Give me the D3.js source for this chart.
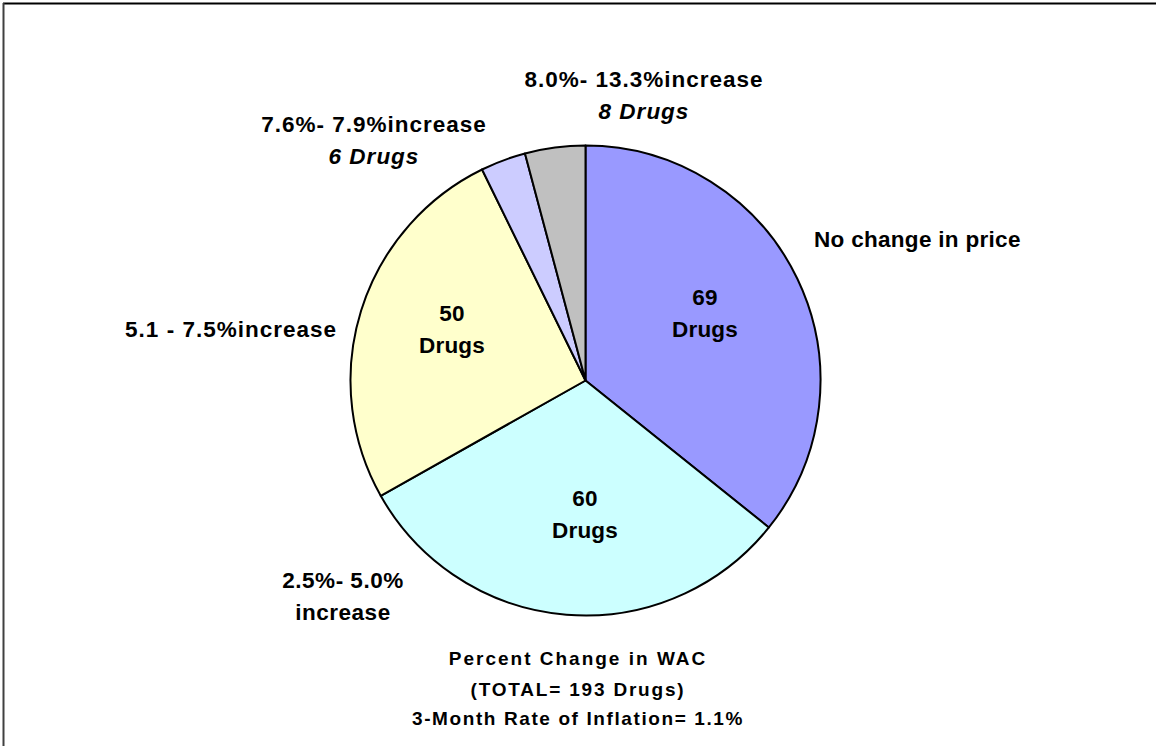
<!DOCTYPE html>
<html>
<head>
<meta charset="utf-8">
<script src="https://cdn.jsdelivr.net/npm/d3@7"></script>
<style>
  html, body { margin: 0; padding: 0; background: #fff; }
  svg { display: block; }
  text { font-family: "Liberation Sans", Arial, sans-serif; font-weight: bold; fill: #000; }
</style>
</head>
<body>
<svg id="chart" width="1156" height="746"></svg>
<script>
// ---- data ----
const categories = ["No change in price", "2.5%- 5.0% increase", "5.1 - 7.5%increase", "7.6%- 7.9%increase", "8.0%- 13.3%increase"];
const drugCounts = [69, 60, 50, 6, 8];
const sliceColors = ["#9999FF", "#CCFFFF", "#FFFFCC", "#CCCCFF", "#C0C0C0"];
const titleLines = ["Percent Change in WAC", "(TOTAL= 193 Drugs)", "3-Month Rate of Inflation= 1.1%"];

const svg = d3.select("#chart");
const W = 1156, H = 746;

// frame
svg.append("line").attr("x1", 3).attr("x2", W).attr("y1", 3.5).attr("y2", 3.5)
  .attr("stroke", "#000").attr("stroke-width", 2);
svg.append("line").attr("x1", 3.5).attr("x2", 3.5).attr("y1", 3).attr("y2", H)
  .attr("stroke", "#404040").attr("stroke-width", 2);

const cx = 585.5, cy = 380.5, R = 235;
const data = categories.map((c, i) => ({ cat: c, value: drugCounts[i], color: sliceColors[i] }));
const pie = d3.pie().value(d => d.value).sort(null).startAngle(0).endAngle(2 * Math.PI);
const arc = d3.arc().innerRadius(0).outerRadius(R);
const arcs = pie(data);

const g = svg.append("g").attr("transform", `translate(${cx},${cy})`);
g.selectAll("path").data(arcs).enter().append("path")
  .attr("d", arc)
  .attr("fill", d => d.data.color)
  .attr("stroke", "#000")
  .attr("stroke-width", 2)
  .attr("stroke-linejoin", "round");

// label helper
function label(x, y, lines, opts = {}) {
  const t = svg.append("text")
    .attr("x", x).attr("y", y)
    .attr("text-anchor", opts.anchor || "middle")
    .style("font-size", (opts.size || 22.5) + "px")
    .style("letter-spacing", (opts.ls !== undefined ? opts.ls : 0.3) + "px");
  lines.forEach((ln, i) => {
    const sp = t.append("tspan").attr("x", x).attr("dy", i === 0 ? 0 : (opts.lh || 31.5)).text(ln.text);
    if (ln.italic) sp.style("font-style", "italic");
  });
  return t;
}

// inside labels (drug counts)
const countPos = [[705, 305], [585, 506], [452, 321]];
countPos.forEach((p, i) => {
  label(p[0], p[1], [{ text: String(drugCounts[i]) }, { text: "Drugs" }], { ls: 0.2 });
});

// outside category labels
label(814, 247, [{ text: categories[0] }], { anchor: "start", ls: 0.3 });
label(343, 588, [{ text: "2.5%- 5.0%" }, { text: "increase" }], { ls: 0.5 });
label(337, 337, [{ text: categories[2] }], { anchor: "end", ls: 1.0 });
label(374, 132, [{ text: categories[3] }, { text: drugCounts[3] + " Drugs", italic: true }], { ls: 1.0 });
label(644, 87, [{ text: categories[4] }, { text: drugCounts[4] + " Drugs", italic: true }], { ls: 1.0 });

// bottom title
const titleBase = [665, 696, 725];
const titleLs = [2.0, 1.8, 1.6];
titleLines.forEach((tl, i) => {
  svg.append("text").attr("x", 578).attr("y", titleBase[i])
    .attr("text-anchor", "middle")
    .style("font-size", "19px")
    .style("letter-spacing", titleLs[i] + "px")
    .text(tl);
});
</script>
</body>
</html>
